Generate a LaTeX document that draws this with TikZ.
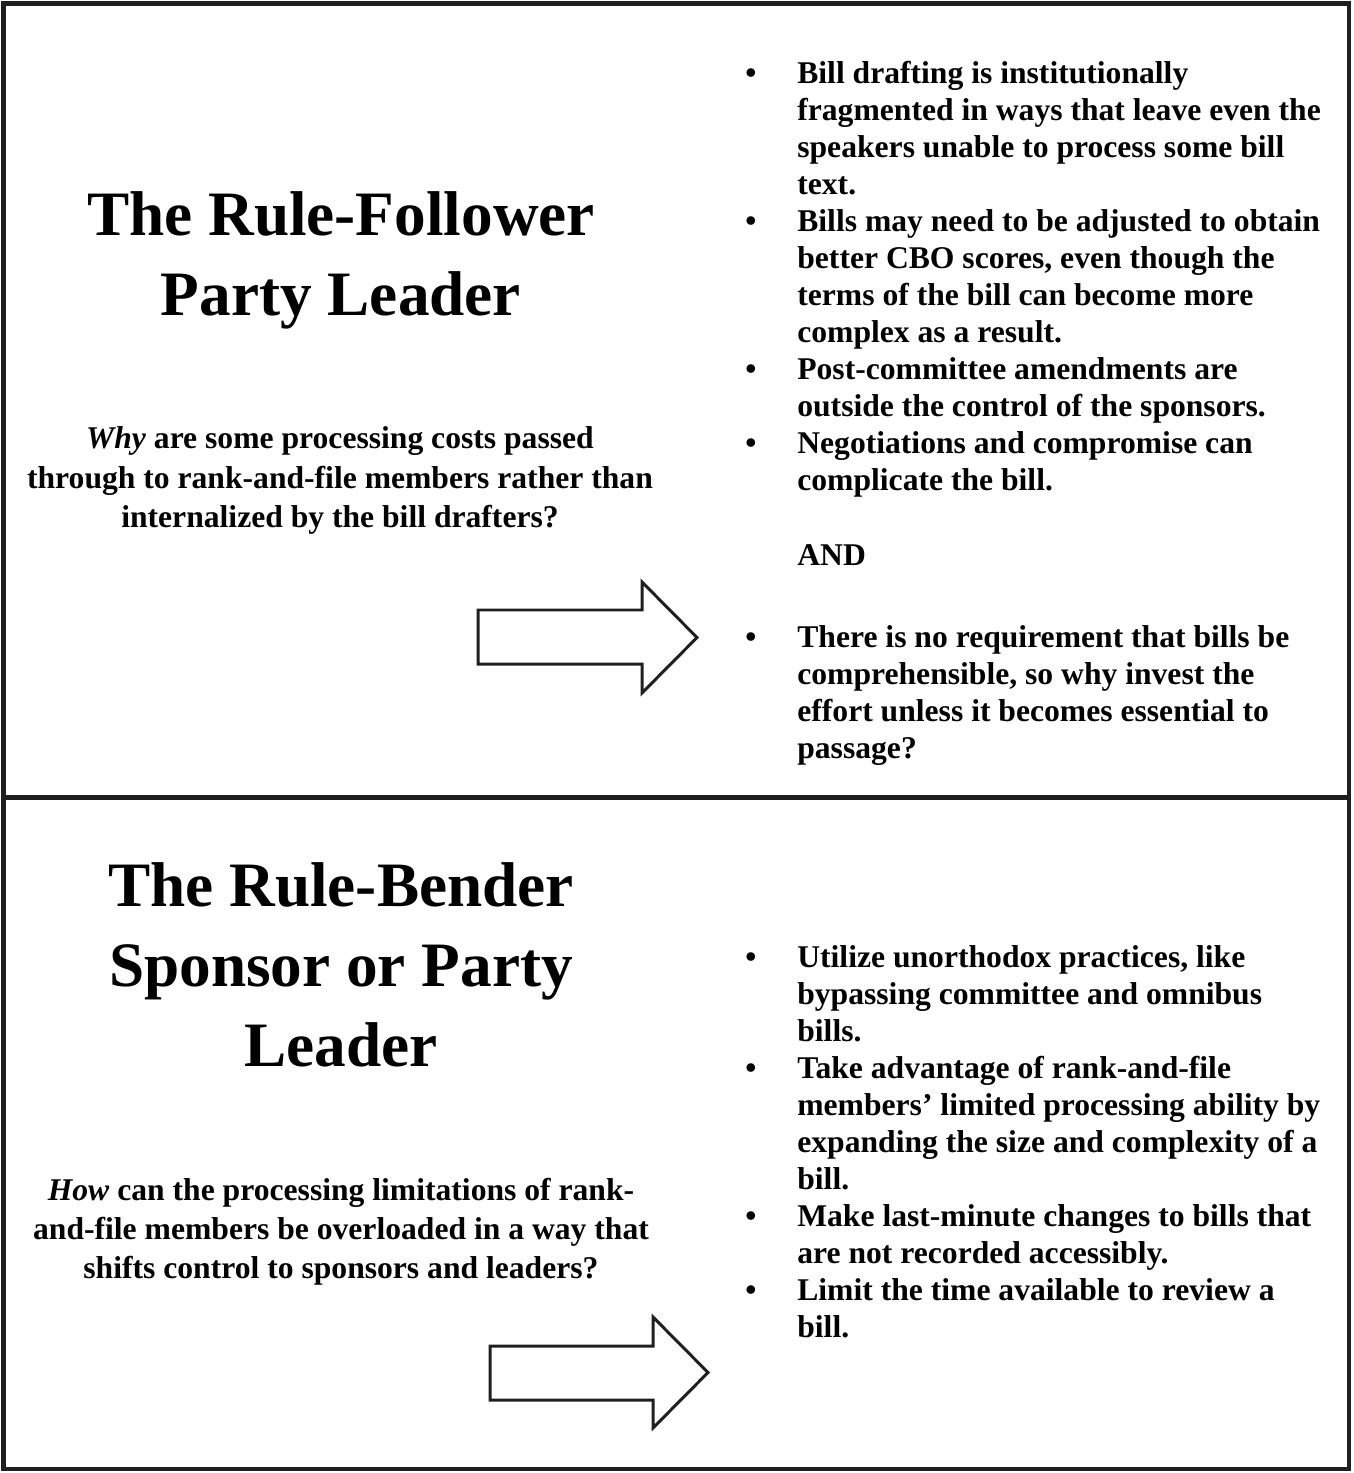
\documentclass[tikz,border=0pt]{standalone}
\usepackage{fontspec}
\setmainfont{Liberation Serif}

\newcommand{\bitem}{\makebox[1.04cm][l]{\textbullet}}
\newcommand{\bcont}{\hspace*{1.04cm}}

\begin{document}
\begin{tikzpicture}[
    x=0.02cm,
    y=-0.02cm,
    frameline/.style={
        draw=black!88,
        line width=2.3pt
    },
    titletext/.style={
        font=\fontsize{36}{45.5}\selectfont\bfseries,
        align=center,
        anchor=base,
        inner sep=0pt
    },
    questiontext/.style={
        font=\fontsize{18}{22.2}\selectfont\bfseries,
        align=center,
        anchor=base,
        inner sep=0pt
    },
    pointlist/.style={
        font=\fontsize{18}{21.06}\selectfont\bfseries,
        align=left,
        anchor=base west,
        inner sep=0pt
    },
    blockarrow/.style={
        draw=black!88,
        line width=1.7pt,
        line join=miter
    }
]

\useasboundingbox (0,0) rectangle (1354,1473);

% Frame
\draw[frameline] (3.5,3.5) rectangle (1349,1469);
\draw[frameline] (3.5,797.5) -- (1349,797.5);

% Rule-follower (nodes sit on the baseline of their last line)
\node[titletext] (followertitle) at (341,315)
{The Rule-Follower\\Party Leader};

\node[questiontext] (followerquestion) at (340,527)
{\textit{Why} are some processing costs passed\\
through to rank-and-file members rather than\\
internalized by the bill drafters?};

\draw[blockarrow]
(478,610) -- (642,610) -- (642,582) -- (697,637.5)
-- (642,693) -- (642,664) -- (478,664) -- cycle;

\node[pointlist] (followerlist) at (745,758)
{\bitem Bill drafting is institutionally\\
\bcont fragmented in ways that leave even the\\
\bcont speakers unable to process some bill\\
\bcont text.\\
\bitem Bills may need to be adjusted to obtain\\
\bcont better CBO scores, even though the\\
\bcont terms of the bill can become more\\
\bcont complex as a result.\\
\bitem Post-committee amendments are\\
\bcont outside the control of the sponsors.\\
\bitem Negotiations and compromise can\\
\bcont complicate the bill.\\[0.76cm]
\bcont AND\\[0.9cm]
\bitem There is no requirement that bills be\\
\bcont comprehensible, so why invest the\\
\bcont effort unless it becomes essential to\\
\bcont passage?};

% Rule-bender
\node[titletext] (bendertitle) at (341,1066)
{The Rule-Bender\\Sponsor or Party\\Leader};

\node[questiontext] (benderquestion) at (341,1278)
{\textit{How} can the processing limitations of rank-\\
and-file members be overloaded in a way that\\
shifts control to sponsors and leaders?};

\draw[blockarrow]
(490,1346) -- (653,1346) -- (653,1317) -- (708,1372.5)
-- (653,1428) -- (653,1400) -- (490,1400) -- cycle;

\node[pointlist] (benderlist) at (745,1337)
{\bitem Utilize unorthodox practices, like\\
\bcont bypassing committee and omnibus\\
\bcont bills.\\
\bitem Take advantage of rank-and-file\\
\bcont members’ limited processing ability by\\
\bcont expanding the size and complexity of a\\
\bcont bill.\\
\bitem Make last-minute changes to bills that\\
\bcont are not recorded accessibly.\\
\bitem Limit the time available to review a\\
\bcont bill.};

\end{tikzpicture}
\end{document}
